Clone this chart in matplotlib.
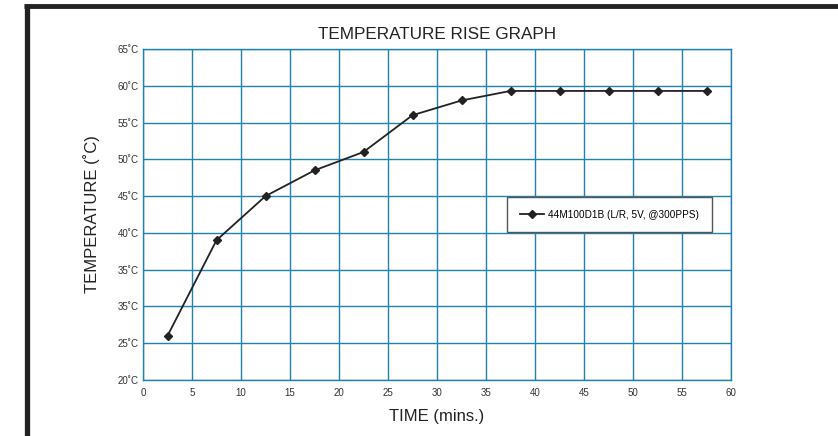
import matplotlib
matplotlib.use("Agg")
from matplotlib import pyplot as plt
from matplotlib.lines import Line2D

plt.rcParams['font.family'] = ['Liberation Sans', 'DejaVu Sans']

# data
time_mins = [2.5, 7.5, 12.5, 17.5, 22.5, 27.5, 32.5, 37.5, 42.5, 47.5, 52.5, 57.5]
temperature = [26, 39, 45, 48.5, 51, 56, 58, 59.3, 59.3, 59.3, 59.3, 59.3]
x_ticks = list(range(0, 61, 5))
y_ticks = [20, 25, 30, 35, 40, 45, 50, 55, 60, 65]
# the original chart really labels 30 as "35"
y_tick_labels = ["20˚C", "25˚C", "35˚C", "35˚C", "40˚C", "45˚C",
                 "50˚C", "55˚C", "60˚C", "65˚C"]
series_name = "44M100D1B (L/R, 5V, @300PPS)"

W, H = 838, 436
fig = plt.figure(figsize=(W / 100, H / 100), dpi=100)

# black frame on left and top
fig.add_artist(Line2D([26.5 / W, 26.5 / W], [0, 1 - 4 / H], color="#222222",
                      lw=3.8, solid_capstyle="butt"))
fig.add_artist(Line2D([24 / W, 1], [1 - 6.5 / H, 1 - 6.5 / H], color="#222222",
                      lw=3.5, solid_capstyle="butt"))

ax = fig.add_axes([143 / W, 1 - 380 / H, (731 - 143) / W, (380 - 49) / H])
grid_col = "#2182ae"

ax.plot(time_mins, temperature, color="#222222", lw=1.3, marker="D",
        markersize=4.5, label=series_name)

ax.set_xlim(0, 60)
ax.set_ylim(20, 65)
ax.set_xticks(x_ticks)
ax.set_yticks(y_ticks)
ax.set_yticklabels(y_tick_labels)
ax.grid(True, color=grid_col, lw=1.0)
ax.set_axisbelow(True)
for s in ax.spines.values():
    s.set_color(grid_col)
    s.set_linewidth(1.0)
ax.tick_params(length=0, labelsize=7, labelcolor="#333333")
ax.tick_params(axis="x", pad=6)
ax.tick_params(axis="y", pad=3)

ax.set_title("TEMPERATURE RISE GRAPH", fontsize=12.3, color="#222222", pad=7)
ax.set_xlabel("TIME (mins.)", fontsize=12, color="#222222", labelpad=8)
ax.set_ylabel("TEMPERATURE (˚C)", fontsize=12, color="#222222", labelpad=13)

leg = ax.legend(loc="upper left", bbox_to_anchor=((507 - 143) / (731 - 143), (380 - 197) / (380 - 49)),
                fontsize=7.2, fancybox=False, framealpha=1, edgecolor="#555555",
                handlelength=2.4, borderpad=1.25, handletextpad=0.5, borderaxespad=0)
leg.get_frame().set_linewidth(1.0)

fig.savefig("out.png", dpi=100)
